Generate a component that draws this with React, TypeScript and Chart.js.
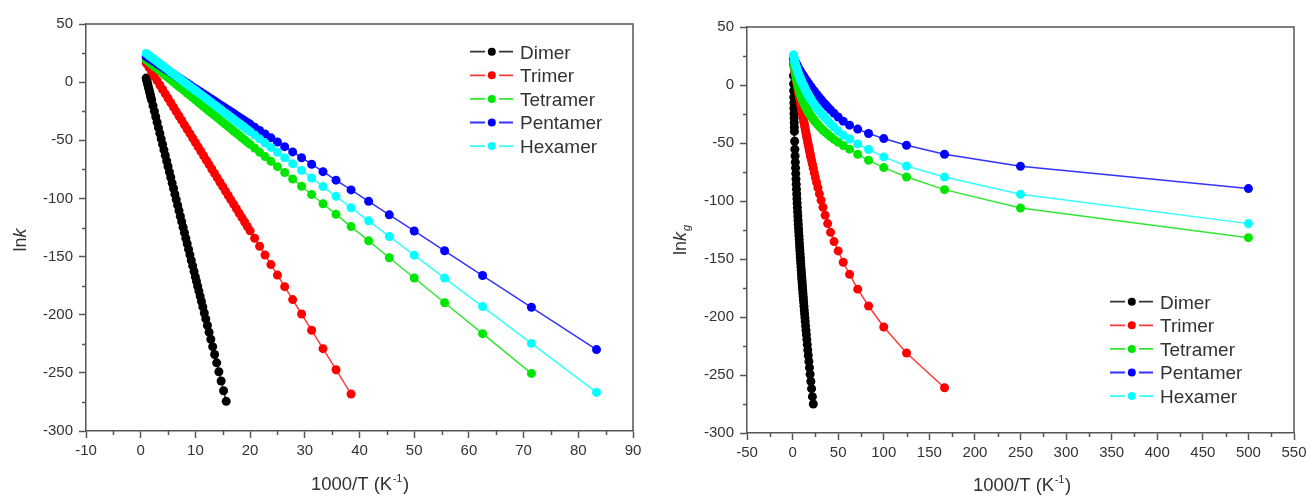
import React, { useEffect, useRef } from 'react';
import { Chart, registerables } from 'chart.js';
Chart.register(...registerables);

// ---------- data ----------
const seriesNames = ['Dimer', 'Trimer', 'Tetramer', 'Pentamer', 'Hexamer'];
const dotColors = ['#000000', '#ff0000', '#00e600', '#0000ff', '#00ffff'];
const lineColors = ['#333333', '#ff3a3a', '#33e633', '#3333ff', '#33ffff'];

const yTicks = [50, 0, -50, -100, -150, -200, -250, -300];
const xTicksLeft = [-10, 0, 10, 20, 30, 40, 50, 60, 70, 80, 90];
const xTicksRight = [-50, 0, 50, 100, 150, 200, 250, 300, 350, 400, 450, 500, 550];

// 1000/T grid used by the trimer..hexamer series
const xGrid = [1, 1.5, 2, 2.5, 3, 3.5, 4, 4.5, 5, 5.5, 6, 6.5, 7, 7.5, 8, 8.5, 9, 9.5, 10,
  10.5, 11, 11.5, 12, 12.5, 13, 13.5, 14, 14.5, 15, 15.5, 16, 16.5, 17, 17.5, 18, 18.5, 19, 19.5, 20,
  20.83, 21.74, 22.73, 23.81, 25, 26.32, 27.78, 29.41, 31.25, 33.33, 35.71, 38.46, 41.67, 45.45, 50,
  55.56, 62.5, 71.43, 83.33, 100, 125, 166.67, 250, 500];

// finer 1000/T grid used by the dimer series
const xDimer = [1, 1.1, 1.2, 1.3, 1.4, 1.5, 1.6, 1.7, 1.8, 1.9, 2, 2.25, 2.5, 2.75, 3, 3.25, 3.5, 3.75,
  4, 4.25, 4.5, 4.75, 5, 5.25, 5.5, 5.75, 6, 6.25, 6.5, 6.75, 7, 7.25, 7.5, 7.75, 8, 8.25, 8.5, 8.75,
  9, 9.25, 9.5, 9.75, 10, 10.2, 10.42, 10.64, 10.87, 11.11, 11.36, 11.63, 11.9, 12.2, 12.5, 12.82,
  13.16, 13.51, 13.89, 14.29, 14.71, 15.15, 15.63, 16.13, 16.67, 17.24, 17.86, 18.52, 19.23, 20,
  20.83, 21.74, 22.73];

// left panel: ln k
const dimerLnk = [3.5, 1.6, -0.3, -2.2, -4.1, -6.0, -7.9, -9.8, -11.7, -13.6, -15.5, -20.3, -25.0, -29.8,
  -34.5, -39.3, -44.0, -48.8, -53.5, -58.3, -63.0, -67.8, -72.5, -77.3, -82.0, -86.8, -91.5, -96.3,
  -101.0, -105.8, -110.5, -115.3, -120.0, -124.8, -129.5, -134.3, -139.0, -143.8, -148.5, -153.3,
  -158.0, -162.8, -167.5, -171.3, -175.5, -179.7, -184.0, -188.6, -193.3, -198.5, -203.6, -209.3,
  -215.0, -221.1, -227.5, -234.2, -241.4, -249.0, -257.0, -265.4, -274.5];
const trimerLnk = [16.5, 12.7, 8.9, 5.1, 1.3, -2.5, -6.3, -10.1, -13.9, -17.7, -21.5, -25.3, -29.1, -32.9,
  -36.7, -40.5, -44.3, -48.1, -51.9, -55.7, -59.5, -63.3, -67.1, -70.9, -74.7, -78.5, -82.3, -86.1,
  -89.9, -93.7, -97.5, -101.3, -105.1, -108.9, -112.7, -116.5, -120.3, -124.1, -127.9, -134.2, -141.1,
  -148.6, -156.9, -165.9, -175.9, -187.0, -199.4, -213.4, -229.2, -247.3, -268.2];
const tetramerLnk = [19.3, 17.4, 15.4, 13.5, 11.6, 9.7, 7.8, 5.9, 3.9, 2.0, 0.1, -1.8, -3.7, -5.6, -7.5,
  -9.5, -11.4, -13.3, -15.2, -17.1, -19.0, -20.9, -22.9, -24.8, -26.7, -28.6, -30.5, -32.4, -34.4,
  -36.3, -38.2, -40.1, -42.0, -43.9, -45.8, -47.8, -49.7, -51.6, -53.5, -56.7, -60.2, -64.0, -68.1,
  -72.7, -77.7, -83.3, -89.5, -96.6, -104.6, -113.7, -124.2, -136.5, -151.0, -168.4, -189.7, -216.3,
  -250.5];
const pentamerLnk = [21.9, 20.4, 18.9, 17.4, 15.8, 14.3, 12.8, 11.2, 9.7, 8.2, 6.6, 5.1, 3.6, 2.1, 0.5,
  -1.0, -2.5, -4.1, -5.6, -7.1, -8.7, -10.2, -11.7, -13.3, -14.8, -16.3, -17.8, -19.4, -20.9, -22.4,
  -24.0, -25.5, -27.0, -28.6, -30.1, -31.6, -33.1, -34.7, -36.2, -38.7, -41.5, -44.6, -47.9, -51.5,
  -55.5, -60.0, -65.0, -70.6, -77.0, -84.3, -92.7, -102.5, -114.1, -128.0, -145.0, -166.3, -193.6,
  -230.0];
const hexamerLnk = [24.7, 22.9, 21.1, 19.4, 17.6, 15.8, 14.0, 12.3, 10.5, 8.7, 7.0, 5.2, 3.4, 1.7, -0.1,
  -1.9, -3.7, -5.4, -7.2, -9.0, -10.7, -12.5, -14.3, -16.1, -17.8, -19.6, -21.4, -23.1, -24.9, -26.7,
  -28.4, -30.2, -32.0, -33.8, -35.5, -37.3, -39.1, -40.8, -42.6, -45.5, -48.8, -52.3, -56.1, -60.3,
  -65.0, -70.1, -75.9, -82.4, -89.8, -98.2, -108.0, -119.3, -132.7, -148.8, -168.5, -193.0, -224.7,
  -266.8];

// right panel: ln k_g
const dimerLnkg = [8.0, 1.0, -5.0, -10.5, -15.5, -20.0, -24.5, -28.5, -32.5, -36.3, -40.0, -48.5, -55.4,
  -61.1, -66.5, -71.6, -76.4, -81.1, -85.5, -89.8, -94.0, -98.0, -101.9, -105.7, -109.4, -113.0,
  -116.6, -120.0, -123.4, -126.7, -130.0, -133.2, -136.3, -139.4, -142.4, -145.4, -148.4, -151.3,
  -154.2, -157.0, -159.8, -162.5, -165.2, -167.4, -169.7, -172.0, -174.5, -176.9, -179.5, -182.2,
  -184.9, -187.8, -190.8, -193.9, -197.1, -200.4, -203.9, -207.6, -211.4, -215.3, -219.5, -223.8,
  -228.4, -233.2, -238.3, -243.7, -249.4, -255.5, -261.8, -268.7, -275.0];
const trimerLnkg = [18.3, 16.0, 13.8, 11.5, 9.3, 7.0, 4.8, 2.5, 0.3, -1.9, -4.1, -6.3, -8.5, -10.7, -12.9,
  -15.1, -17.3, -19.5, -21.7, -23.8, -25.9, -28.0, -30.1, -32.2, -34.3, -36.4, -38.5, -40.6, -42.7,
  -44.7, -46.6, -48.6, -50.5, -52.5, -54.4, -56.4, -58.3, -60.3, -62.2, -65.1, -68.3, -71.8, -75.6,
  -79.7, -83.9, -88.6, -93.8, -99.3, -105.4, -112.3, -119.5, -127.0, -135.0, -143.0, -152.8, -163.2,
  -176.0, -190.5, -208.6, -231.0, -261.0];
const tetramerLnkg = [21, 18.2, 15.6, 13.1, 10.8, 8.6, 6.5, 4.5, 2.6, 0.8, -0.9, -2.5, -4.0, -5.4, -6.7,
  -7.9, -9.1, -10.2, -11.2, -12.2, -13.1, -14.1, -15.0, -15.9, -16.7, -17.6, -18.4, -19.2, -20.0,
  -20.7, -21.5, -22.2, -22.9, -23.6, -24.3, -24.9, -25.5, -26.1, -26.7, -27.5, -28.5, -29.5, -30.6,
  -31.8, -33.0, -34.3, -35.7, -37.2, -38.8, -40.6, -42.5, -44.6, -46.9, -49.4, -52.2, -55.3, -59.7,
  -64.9, -71.2, -79.3, -90.2, -106.0, -131.6];
const pentamerLnkg = [23, 22.3, 21.5, 20.7, 19.9, 19.1, 18.3, 17.5, 16.7, 15.9, 15.1, 14.4, 13.7, 13.0,
  12.3, 11.6, 11.0, 10.4, 9.8, 9.2, 8.6, 7.9, 7.3, 6.7, 6.1, 5.5, 4.9, 4.3, 3.7, 3.1, 2.6, 2.1, 1.5,
  1.0, 0.4, -0.1, -0.7, -1.2, -1.7, -2.6, -3.5, -4.5, -5.6, -6.8, -8.1, -9.5, -11.0, -12.7, -14.5,
  -16.5, -18.8, -21.4, -24.3, -27.6, -31.2, -34.6, -38.0, -41.8, -46.2, -52.0, -59.7, -70.1, -89.3];
const hexamerLnkg = [26, 24, 22, 20.3, 18.7, 17.2, 15.8, 14.5, 13.2, 12.0, 10.8, 9.7, 8.6, 7.6, 6.6, 5.6,
  4.7, 3.8, 2.9, 2.1, 1.2, 0.4, -0.5, -1.3, -2.1, -2.9, -3.7, -4.5, -5.3, -6.0, -6.8, -7.5, -8.2,
  -8.9, -9.6, -10.3, -10.9, -11.6, -12.2, -13.2, -14.3, -15.5, -16.7, -18.0, -19.4, -20.9, -22.5,
  -24.3, -26.2, -28.3, -30.7, -33.3, -36.3, -39.7, -43.3, -46.6, -50.8, -55.6, -62.0, -69.8, -79.3,
  -94.2, -119.5];

// ---------- styling ----------
const FONT = "'Liberation Sans', Arial, Helvetica, sans-serif";
const AXIS = '#555555';
const TEXT = '#333333';
const H = 497;

type Panel = {
  width: number;
  left: number;
  ys: number[][];
  xMin: number;
  xMax: number;
  xTicks: number[];
  pad: { left: number; top: number; right: number; bottom: number };
  yWidth: number;
  xHeight: number;
  legendX: number;
  legendY: number;
  yTitleX: number;
  yTitleY: number;
  sub: string;
  xTitleX: number;
  xTitleY: number;
};

const decor = {
  id: 'decor',
  afterDraw(chart: any, _args: any, o: any) {
    const p: Panel = o.panel;
    const { ctx, chartArea: a, scales } = chart;
    const xs = scales.x;
    const ys = scales.y;
    ctx.save();
    // frame top + right
    ctx.strokeStyle = AXIS;
    ctx.lineWidth = 1.5;
    ctx.beginPath();
    ctx.moveTo(a.left, a.top);
    ctx.lineTo(a.right, a.top);
    ctx.lineTo(a.right, a.bottom);
    ctx.stroke();
    // minor ticks
    ctx.beginPath();
    for (let i = 0; i < p.xTicks.length - 1; i++) {
      const v = (p.xTicks[i] + p.xTicks[i + 1]) / 2;
      const px = Math.round(xs.getPixelForValue(v)) + 0.5;
      ctx.moveTo(px, a.bottom);
      ctx.lineTo(px, a.bottom + 4);
    }
    for (let i = 0; i < yTicks.length - 1; i++) {
      const v = (yTicks[i] + yTicks[i + 1]) / 2;
      const py = Math.round(ys.getPixelForValue(v)) + 0.5;
      ctx.moveTo(a.left, py);
      ctx.lineTo(a.left - 4, py);
    }
    ctx.stroke();

    // legend
    seriesNames.forEach((n, i) => {
      const cy = p.legendY + i * 23.6;
      const lx = p.legendX;
      ctx.strokeStyle = lineColors[i];
      ctx.lineWidth = 1.8;
      ctx.beginPath();
      ctx.moveTo(lx, cy);
      ctx.lineTo(lx + 15, cy);
      ctx.moveTo(lx + 29, cy);
      ctx.lineTo(lx + 43, cy);
      ctx.stroke();
      ctx.fillStyle = dotColors[i];
      ctx.beginPath();
      ctx.arc(lx + 21.8, cy, 4, 0, Math.PI * 2);
      ctx.fill();
      ctx.fillStyle = TEXT;
      ctx.font = `19px ${FONT}`;
      ctx.textAlign = 'left';
      ctx.textBaseline = 'alphabetic';
      ctx.fillText(n, lx + 50, cy + 6.8);
    });

    // y title: ln k (italic k, optional subscript)
    ctx.save();
    ctx.translate(p.yTitleX, p.yTitleY);
    ctx.rotate(-Math.PI / 2);
    ctx.fillStyle = TEXT;
    ctx.textBaseline = 'alphabetic';
    ctx.textAlign = 'left';
    const fN = `18px ${FONT}`;
    const fI = `italic 18px ${FONT}`;
    const fS = `italic 11px ${FONT}`;
    ctx.font = fN;
    const wLn = ctx.measureText('ln').width;
    ctx.font = fI;
    const wK = ctx.measureText('k').width;
    ctx.font = fS;
    const wS = p.sub ? ctx.measureText(p.sub).width + 1 : 0;
    const total = wLn + wK + wS;
    let cx = -total / 2;
    ctx.font = fN;
    ctx.fillText('ln', cx, 6);
    cx += wLn;
    ctx.font = fI;
    ctx.fillText('k', cx, 6);
    cx += wK + 1;
    if (p.sub) {
      ctx.font = fS;
      ctx.fillText(p.sub, cx, 10);
    }
    ctx.restore();

    // x title: 1000/T (K^-1)
    ctx.fillStyle = TEXT;
    ctx.textBaseline = 'alphabetic';
    ctx.textAlign = 'left';
    const f1 = `18.5px ${FONT}`;
    const f2 = `11px ${FONT}`;
    ctx.font = f1;
    const w1 = ctx.measureText('1000/T (K').width;
    const w3 = ctx.measureText(')').width;
    ctx.font = f2;
    const w2 = ctx.measureText('-1').width + 1;
    let tx = p.xTitleX - (w1 + w2 + w3) / 2;
    ctx.font = f1;
    ctx.fillText('1000/T (K', tx, p.xTitleY);
    tx += w1;
    ctx.font = f2;
    ctx.fillText('-1', tx + 0.5, p.xTitleY - 8);
    tx += w2;
    ctx.font = f1;
    ctx.fillText(')', tx, p.xTitleY);
    ctx.restore();
  },
};

function buildConfig(p: Panel): any {
  const xsFor = (i: number) => (i === 0 ? xDimer : xGrid);
  const datasets = p.ys.map((ys, i) => ({
    label: seriesNames[i],
    data: ys.map((y, k) => ({ x: xsFor(i)[k], y })),
    showLine: true,
    borderColor: lineColors[i],
    borderWidth: 1.5,
    backgroundColor: dotColors[i],
    pointBackgroundColor: dotColors[i],
    pointBorderWidth: 0,
    pointRadius: 4.5,
    pointHoverRadius: 4.5,
    order: 4 - i,
    clip: false,
  }));
  const tickFont = { family: FONT, size: 15 };
  return {
    type: 'scatter',
    data: { datasets },
    options: {
      animation: false,
      responsive: false,
      maintainAspectRatio: false,
      devicePixelRatio: 1,
      events: [],
      layout: { padding: p.pad },
      plugins: {
        legend: { display: false },
        tooltip: { enabled: false },
        decor: { panel: p },
      },
      scales: {
        x: {
          type: 'linear',
          min: p.xMin,
          max: p.xMax,
          afterBuildTicks: (s: any) => {
            s.ticks = p.xTicks.map((v) => ({ value: v }));
          },
          afterFit: (s: any) => {
            s.height = p.xHeight;
          },
          grid: {
            drawOnChartArea: false,
            drawTicks: true,
            tickLength: 7,
            tickColor: AXIS,
            tickWidth: 1.5,
          },
          border: { display: true, color: AXIS, width: 1.5 },
          ticks: {
            font: tickFont,
            color: TEXT,
            padding: 4,
            maxRotation: 0,
            autoSkip: false,
            callback: (v: any) => String(v),
          },
        },
        y: {
          type: 'linear',
          min: -300,
          max: 50,
          afterBuildTicks: (s: any) => {
            s.ticks = yTicks.map((v) => ({ value: v }));
          },
          afterFit: (s: any) => {
            s.width = p.yWidth;
          },
          grid: {
            drawOnChartArea: false,
            drawTicks: true,
            tickLength: 7,
            tickColor: AXIS,
            tickWidth: 1.5,
          },
          border: { display: true, color: AXIS, width: 1.5 },
          ticks: {
            font: tickFont,
            color: TEXT,
            padding: 6,
            autoSkip: false,
            callback: (v: any) => String(v),
          },
        },
      },
    },
    plugins: [decor],
  };
}

const leftPanel: Panel = {
  width: 655,
  left: 0,
  ys: [dimerLnk, trimerLnk, tetramerLnk, pentamerLnk, hexamerLnk],
  xMin: -10,
  xMax: 90,
  xTicks: xTicksLeft,
  pad: { left: 0, top: 24, right: 22, bottom: 0 },
  yWidth: 86,
  xHeight: 66,
  legendX: 470,
  legendY: 51.7,
  yTitleX: 20,
  yTitleY: 240,
  sub: '',
  xTitleX: 360,
  xTitleY: 490,
};

const rightPanel: Panel = {
  width: 656,
  left: 655,
  ys: [dimerLnkg, trimerLnkg, tetramerLnkg, pentamerLnkg, hexamerLnkg],
  xMin: -50,
  xMax: 550,
  xTicks: xTicksRight,
  pad: { left: 0, top: 27, right: 17, bottom: 0 },
  yWidth: 92,
  xHeight: 64,
  legendX: 455,
  legendY: 301.7,
  yTitleX: 25,
  yTitleY: 240,
  sub: 'g',
  xTitleX: 367,
  xTitleY: 491,
};

function PanelChart({ panel }: { panel: Panel }) {
  const ref = useRef<HTMLCanvasElement>(null);
  useEffect(() => {
    const chart = new Chart(ref.current as HTMLCanvasElement, buildConfig(panel));
    return () => chart.destroy();
  }, [panel]);
  return (
    <canvas
      ref={ref}
      width={panel.width}
      height={H}
      style={{ position: 'absolute', left: panel.left, top: 0, width: panel.width, height: H }}
    />
  );
}

export default function App() {
  return (
    <div style={{ position: 'absolute', left: 0, top: 0, width: 1311, height: H, background: '#ffffff' }}>
      <PanelChart panel={leftPanel} />
      <PanelChart panel={rightPanel} />
    </div>
  );
}
